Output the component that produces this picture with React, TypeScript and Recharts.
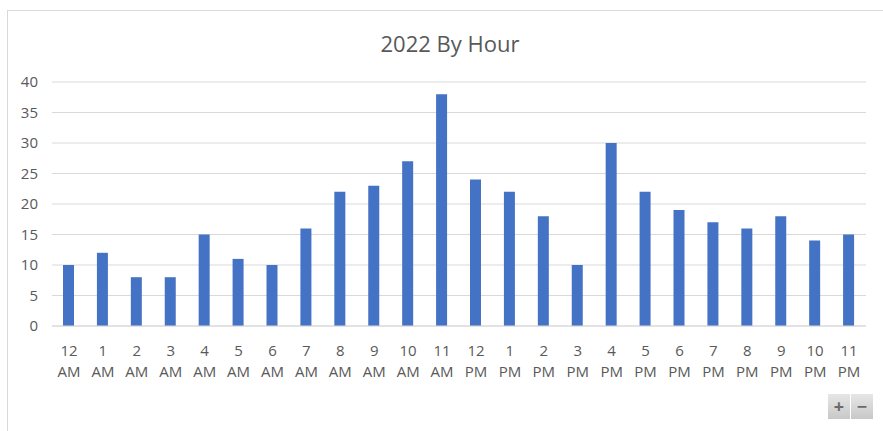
import React from 'react';
import { BarChart, Bar, XAxis, YAxis, CartesianGrid } from 'recharts';

const hours = ['12', '1', '2', '3', '4', '5', '6', '7', '8', '9', '10', '11', '12', '1', '2', '3', '4', '5', '6', '7', '8', '9', '10', '11'];
const periods = ['AM', 'AM', 'AM', 'AM', 'AM', 'AM', 'AM', 'AM', 'AM', 'AM', 'AM', 'AM', 'PM', 'PM', 'PM', 'PM', 'PM', 'PM', 'PM', 'PM', 'PM', 'PM', 'PM', 'PM'];
const counts = [10, 12, 8, 8, 15, 11, 10, 16, 22, 23, 27, 38, 24, 22, 18, 10, 30, 22, 19, 17, 16, 18, 14, 15];
const yTicks = [0, 5, 10, 15, 20, 25, 30, 35, 40];

const data = counts.map((v, i) => ({ label: `${hours[i]}|${periods[i]}`, value: v }));

const FONT = '"Open Sans", "Liberation Sans", sans-serif';
const TEXT = '#595959';

const HourTick = (props: any) => {
  const { x, y, payload } = props;
  const [h, p] = String(payload.value).split('|');
  return (
    <g transform={`translate(${x},${y})`}>
      <text x={0} y={22} textAnchor="middle" fill={TEXT} fontSize={15} fontFamily={FONT}>{h}</text>
      <text x={0} y={43} textAnchor="middle" fill={TEXT} fontSize={15} fontFamily={FONT}>{p}</text>
    </g>
  );
};

const btn: React.CSSProperties = {
  position: 'absolute',
  top: 394,
  width: 22,
  height: 25,
  background: 'linear-gradient(#e6e6e6, #c8c8c8)',
  color: '#6a6a6a',
  fontFamily: FONT,
  fontSize: 18,
  fontWeight: 700,
  lineHeight: '24px',
  textAlign: 'center',
};

export default function App() {
  return (
    <div style={{ position: 'fixed', left: 0, top: 0, width: 883, height: 431, background: '#fff', overflow: 'hidden' }}>
      <div style={{ position: 'absolute', left: 7, top: 10, width: 900, height: 440, border: '1px solid #d9d9d9', boxSizing: 'border-box' }} />
      <div style={{ position: 'absolute', left: 0, top: 28, width: 900, textAlign: 'center', fontFamily: FONT, fontSize: 22, color: TEXT }}>
        2022 By Hour
      </div>
      <div style={{ position: 'absolute', left: 0, top: 0 }}>
        <BarChart width={883} height={431} data={data} margin={{ top: 82, right: 17, bottom: 45, left: 0 }} barCategoryGap={0}>
          <CartesianGrid vertical={false} stroke="#d9d9d9" />
          <XAxis dataKey="label" interval={0} tick={<HourTick />} tickLine={false} axisLine={{ stroke: '#d9d9d9' }} height={60} />
          <YAxis domain={[0, 40]} ticks={yTicks} width={52} tickLine={false} axisLine={false}
            tick={{ fill: TEXT, fontSize: 15, fontFamily: FONT, dx: -6 }} />
          <Bar dataKey="value" fill="#4472C4" barSize={11} isAnimationActive={false} />
        </BarChart>
      </div>
      <div style={{ ...btn, left: 828 }}>+</div>
      <div style={{ ...btn, left: 851 }}>−</div>
    </div>
  );
}
